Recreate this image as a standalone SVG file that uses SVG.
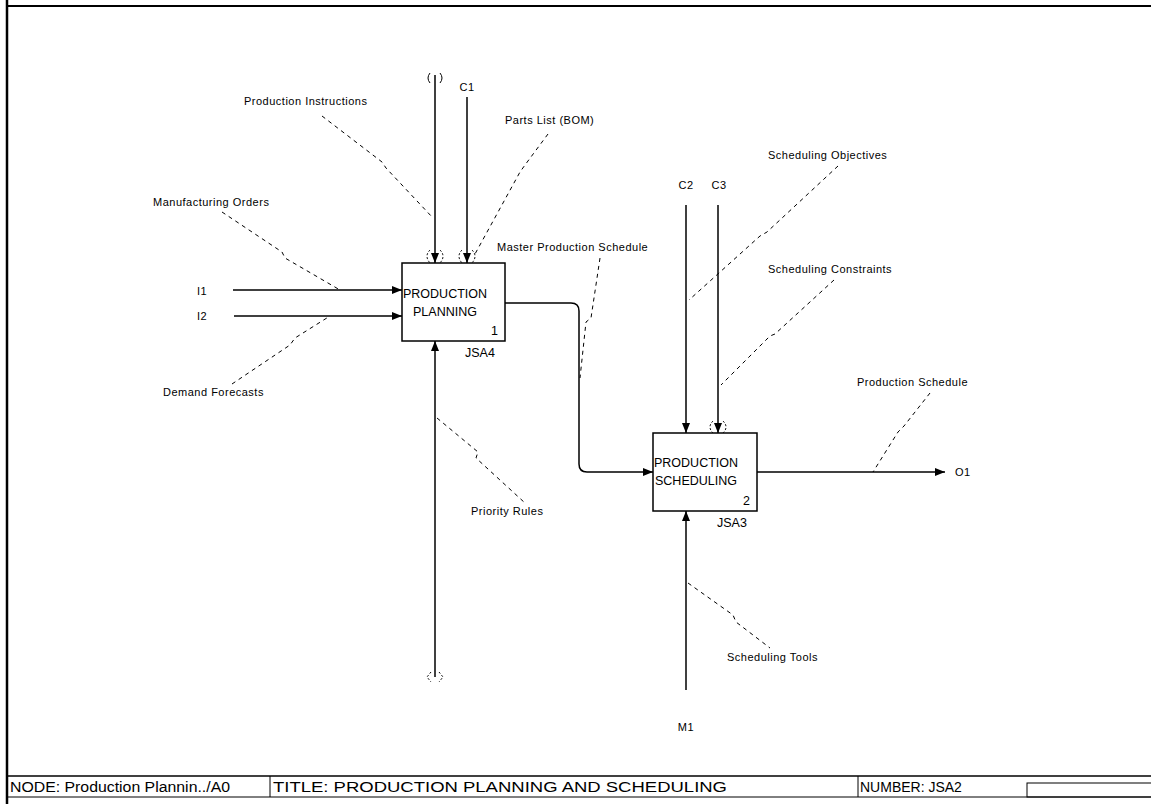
<svg xmlns="http://www.w3.org/2000/svg" width="1151" height="804" viewBox="0 0 1151 804">
<defs>
<marker id="ah" markerWidth="10" markerHeight="8" refX="10" refY="4" orient="auto" markerUnits="userSpaceOnUse">
<path d="M0,0 L10,4 L0,8 Z" fill="#000"/>
</marker>
</defs>
<style>
.frame{fill:none;stroke:#000;stroke-width:1}
.box{fill:#fff;stroke:#000;stroke-width:1.5}
.arr{fill:none;stroke:#000;stroke-width:1.5}
.lead{fill:none;stroke:#000;stroke-width:1;stroke-dasharray:4,4}
.tun{fill:none;stroke:#000;stroke-width:1;stroke-dasharray:2,2}
.lbl{font-family:"Liberation Sans",Arial,sans-serif;font-size:11px;fill:#000;letter-spacing:0.5px}
.bt{font-family:"Liberation Sans",Arial,sans-serif;font-size:12.5px;fill:#000}
.ft{font-family:"Liberation Sans",Arial,sans-serif;font-size:14px;fill:#000}
</style>
<rect width="1151" height="804" fill="#fff"/>
<g id="frame">
<line x1="7" y1="0" x2="7" y2="804" stroke="#000" stroke-width="2.5"/>
<line x1="7" y1="6" x2="1151" y2="6" stroke="#000" stroke-width="2"/>
<line x1="7" y1="776" x2="1151" y2="776" stroke="#000" stroke-width="1.5"/>
<line x1="7" y1="797" x2="1151" y2="797" stroke="#000" stroke-width="1"/>
<line x1="270" y1="776" x2="270" y2="797" class="frame"/>
<line x1="858" y1="776" x2="858" y2="797" class="frame"/>
<rect x="1027" y="783" width="130" height="14" class="frame"/>
<text x="10" y="792" class="ft" textLength="220" lengthAdjust="spacingAndGlyphs">NODE: Production Plannin../A0</text>
<text x="273" y="792" class="ft" textLength="454" lengthAdjust="spacingAndGlyphs">TITLE: PRODUCTION PLANNING AND SCHEDULING</text>
<text x="860" y="792" class="ft">NUMBER: JSA2</text>
</g>
<g id="connectors">
<line x1="233" y1="290" x2="402" y2="290" class="arr" marker-end="url(#ah)"/>
<line x1="234" y1="316" x2="402" y2="316" class="arr" marker-end="url(#ah)"/>
<text x="197" y="295" class="lbl">I1</text>
<text x="197" y="320" class="lbl">I2</text>
<line x1="435" y1="75" x2="435" y2="263" class="arr" marker-end="url(#ah)"/>
<line x1="467" y1="97" x2="467" y2="263" class="arr" marker-end="url(#ah)"/>
<text x="467" y="91" class="lbl" text-anchor="middle">C1</text>
<path d="M430,73 Q426,78 430,83 M440,73 Q444,78 440,83" class="frame"/>
<path d="M430,250 Q424,256 430,263 M440,250 Q446,256 440,263" class="tun"/>
<path d="M462,250 Q456,256 462,263 M472,250 Q478,256 472,263" class="tun"/>
<line x1="435" y1="677" x2="435" y2="341" class="arr" marker-end="url(#ah)"/>
<path d="M431,672 L427,677 L431,682 M439,672 L443,677 L439,682" class="tun"/>
<path d="M505,303 L571,303 Q579,303 579,311 L579,464 Q579,472 587,472 L653,472" class="arr" marker-end="url(#ah)"/>
<line x1="686" y1="205" x2="686" y2="433" class="arr" marker-end="url(#ah)"/>
<line x1="718" y1="205" x2="718" y2="433" class="arr" marker-end="url(#ah)"/>
<text x="686" y="189" class="lbl" text-anchor="middle">C2</text>
<text x="719" y="189" class="lbl" text-anchor="middle">C3</text>
<path d="M713,421 Q707,427 713,433 M723,421 Q729,427 723,433" class="tun"/>
<line x1="686" y1="690" x2="686" y2="511" class="arr" marker-end="url(#ah)"/>
<text x="686" y="731" class="lbl" text-anchor="middle">M1</text>
<line x1="757" y1="472" x2="945" y2="472" class="arr" marker-end="url(#ah)"/>
<text x="955" y="476" class="lbl">O1</text>
<path d="M322,116 L382,162 L386,168 L433,218" class="lead"/>
<path d="M548,134 L525,165 L520,172 L475,254" class="lead"/>
<path d="M222,212 L282,252 L285,258 L340,290" class="lead"/>
<path d="M232,384 L290,345 L295,338 L330,316" class="lead"/>
<path d="M600,258 L591,318 L586,322 L580,378" class="lead"/>
<path d="M838,166 L767,232 L760,236 L689,300" class="lead"/>
<path d="M834,280 L775,334 L770,336 L721,385" class="lead"/>
<path d="M930,393 L904,426 L898,432 L873,472" class="lead"/>
<path d="M437,418 L478,452 L476,458 L525,503" class="lead"/>
<path d="M688,583 L733,615 L736,622 L770,648" class="lead"/>
<text x="244" y="105" class="lbl">Production Instructions</text>
<text x="505" y="124" class="lbl">Parts List (BOM)</text>
<text x="153" y="206" class="lbl">Manufacturing Orders</text>
<text x="163" y="396" class="lbl">Demand Forecasts</text>
<text x="497" y="251" class="lbl">Master Production Schedule</text>
<text x="768" y="159" class="lbl">Scheduling Objectives</text>
<text x="768" y="273" class="lbl">Scheduling Constraints</text>
<text x="857" y="386" class="lbl">Production Schedule</text>
<text x="471" y="515" class="lbl">Priority Rules</text>
<text x="727" y="661" class="lbl">Scheduling Tools</text>
</g>
<g id="node1">
<rect x="402" y="263" width="103" height="78" class="box"/>
<text x="403" y="298" class="bt">PRODUCTION</text>
<text x="413" y="316" class="bt">PLANNING</text>
<text x="491" y="335" class="bt">1</text>
<text x="465" y="357" class="bt">JSA4</text>
</g>
<g id="node2">
<rect x="653" y="433" width="104" height="78" class="box"/>
<text x="654" y="467" class="bt">PRODUCTION</text>
<text x="655" y="485" class="bt">SCHEDULING</text>
<text x="743" y="505" class="bt">2</text>
<text x="717" y="527" class="bt">JSA3</text>
</g>
</svg>
